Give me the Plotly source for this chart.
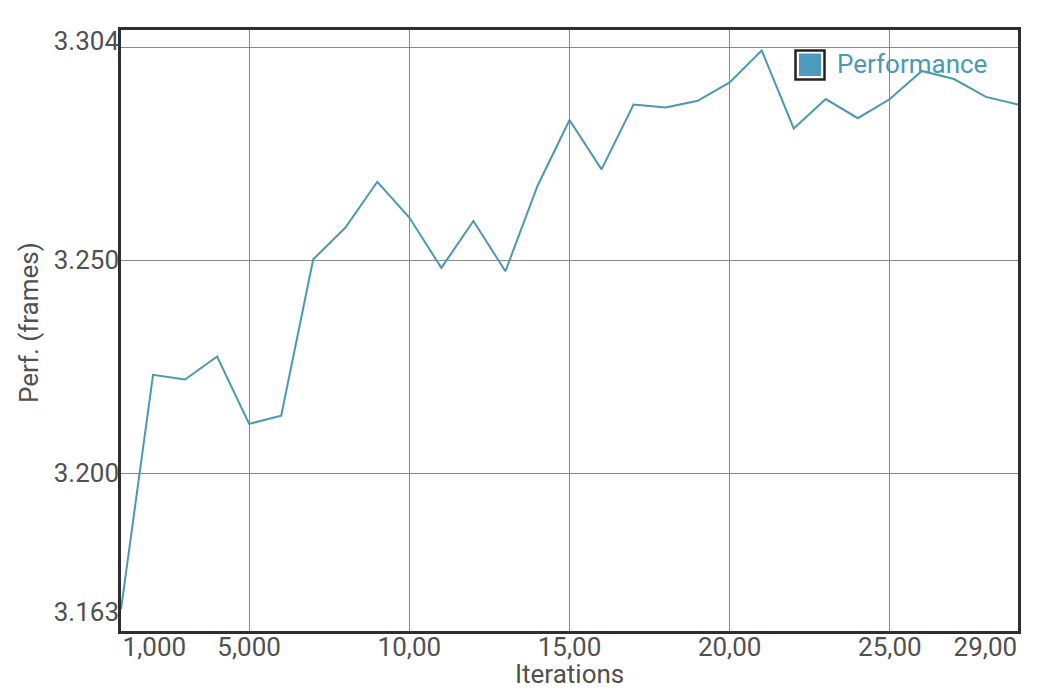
import plotly.graph_objects as go

# ---- data ----
iterations = [1000, 2000, 3000, 4000, 5000, 6000, 7000, 8000, 9000, 10000,
              11000, 12000, 13000, 14000, 15000, 16000, 17000, 18000, 19000, 20000,
              21000, 22000, 23000, 24000, 25000, 26000, 27000, 28000, 29000]
performance = [3.1681, 3.2231, 3.2220, 3.2274, 3.2116, 3.2135, 3.2502, 3.2576, 3.2684, 3.2600,
               3.2482, 3.2592, 3.2474, 3.2674, 3.2829, 3.2713, 3.2865, 3.2858, 3.2874, 3.2917,
               3.2992, 3.2809, 3.2878, 3.2833, 3.2878, 3.2944, 3.2925, 3.2883, 3.2865]

x_grid_vals = [5000, 10000, 15000, 20000, 25000]
x_tick_vals = [2040, 5000, 10000, 15000, 20000, 25000, 27980]
x_tick_text = ["1,000", "5,000", "10,00", "15,00", "20,00", "25,00", "29,00"]

y_grid_vals = [3.200, 3.250, 3.300]
y_tick_vals = [3.1674, 3.200, 3.250, 3.3014]
y_tick_text = ["3.163", "3.200", "3.250", "3.304"]

x_range = [1000, 29000]
y_range = [3.163, 3.304]

series_name = "Performance"
x_title = "Iterations"
y_title = "Perf. (frames)"

# ---- style ----
OFF = 8  # default page body margin
W, H = 1052 - OFF, 698 - OFF
ML, MT = 121 - OFF, 30 - OFF
MR, MB = 34, 67
PW, PH = W - ML - MR, H - MT - MB
LINE_COLOR = "#4b99b1"
FILL_COLOR = "#4a9bbd"
TEXT_COLOR = "#505050"
GRID_COLOR = "#8a8a8a"
FRAME_COLOR = "#2e2e2e"
FONT = "Roboto"


def px(xp):
    # page pixel -> paper x
    return (xp - OFF - ML) / PW


def py(yp):
    # page pixel -> paper y
    return (H - MB - (yp - OFF)) / PH


fig = go.Figure()
fig.add_trace(go.Scatter(x=iterations, y=performance, mode="lines", name=series_name,
                         line=dict(color=LINE_COLOR, width=2), showlegend=False))
fig.add_trace(go.Scatter(x=[], y=[], xaxis="x2", yaxis="y2", showlegend=False,
                         hoverinfo="skip"))

fig.update_layout(
    width=W, height=H,
    margin=dict(l=ML, r=MR, t=MT, b=MB, pad=0),
    paper_bgcolor="white", plot_bgcolor="white",
    font=dict(family=FONT, size=26, color=TEXT_COLOR),
    showlegend=False,
    xaxis=dict(range=x_range, tickvals=x_grid_vals, showticklabels=False,
               showgrid=True, gridcolor=GRID_COLOR, gridwidth=1, zeroline=False,
               showline=True, linecolor=FRAME_COLOR, linewidth=2.5, mirror=True, ticks=""),
    yaxis=dict(range=y_range, tickvals=y_grid_vals, showticklabels=False,
               showgrid=True, gridcolor=GRID_COLOR, gridwidth=1, zeroline=False,
               showline=True, linecolor=FRAME_COLOR, linewidth=2.5, mirror=True, ticks=""),
    xaxis2=dict(range=x_range, overlaying="x", anchor="y", side="bottom",
                tickvals=x_tick_vals, ticktext=x_tick_text, showgrid=False, zeroline=False,
                showline=False, ticks="", ticklabelstandoff=-2,
                tickfont=dict(family=FONT, size=26, color=TEXT_COLOR)),
    yaxis2=dict(range=y_range, overlaying="y", anchor="x", side="left",
                tickvals=y_tick_vals, ticktext=y_tick_text, showgrid=False, zeroline=False,
                showline=False, ticks="", ticklabelstandoff=1,
                tickfont=dict(family=FONT, size=26, color=TEXT_COLOR)),
)

# legend background (between grid and traces)
fig.add_shape(type="rect", xref="paper", yref="paper",
              x0=px(785), x1=px(1008), y0=py(90), y1=py(40),
              fillcolor="white", line=dict(width=0), layer="between")
# legend swatch
fig.add_shape(type="rect", xref="paper", yref="paper",
              x0=px(795.5), x1=px(824.5), y0=py(79.5), y1=py(50.5),
              fillcolor="white", line=dict(color="#222222", width=2.5), layer="above")
fig.add_shape(type="rect", xref="paper", yref="paper",
              x0=px(799), x1=px(821), y0=py(76), y1=py(53.5),
              fillcolor=FILL_COLOR, line=dict(width=0), layer="above")
fig.add_annotation(text=series_name, xref="paper", yref="paper",
                   x=px(835), y=py(64), xanchor="left", yanchor="middle",
                   showarrow=False, font=dict(family=FONT, size=26, color=LINE_COLOR))

# axis titles
fig.add_annotation(text=x_title, xref="paper", yref="paper",
                   x=px(569.5), y=py(674), xanchor="center", yanchor="middle",
                   showarrow=False, font=dict(family=FONT, size=26, color=TEXT_COLOR))
fig.add_annotation(text=y_title, xref="paper", yref="paper",
                   x=px(29), y=py(323), xanchor="center", yanchor="middle", textangle=-90,
                   showarrow=False, font=dict(family=FONT, size=26, color=TEXT_COLOR))

fig.write_html("out.html")
